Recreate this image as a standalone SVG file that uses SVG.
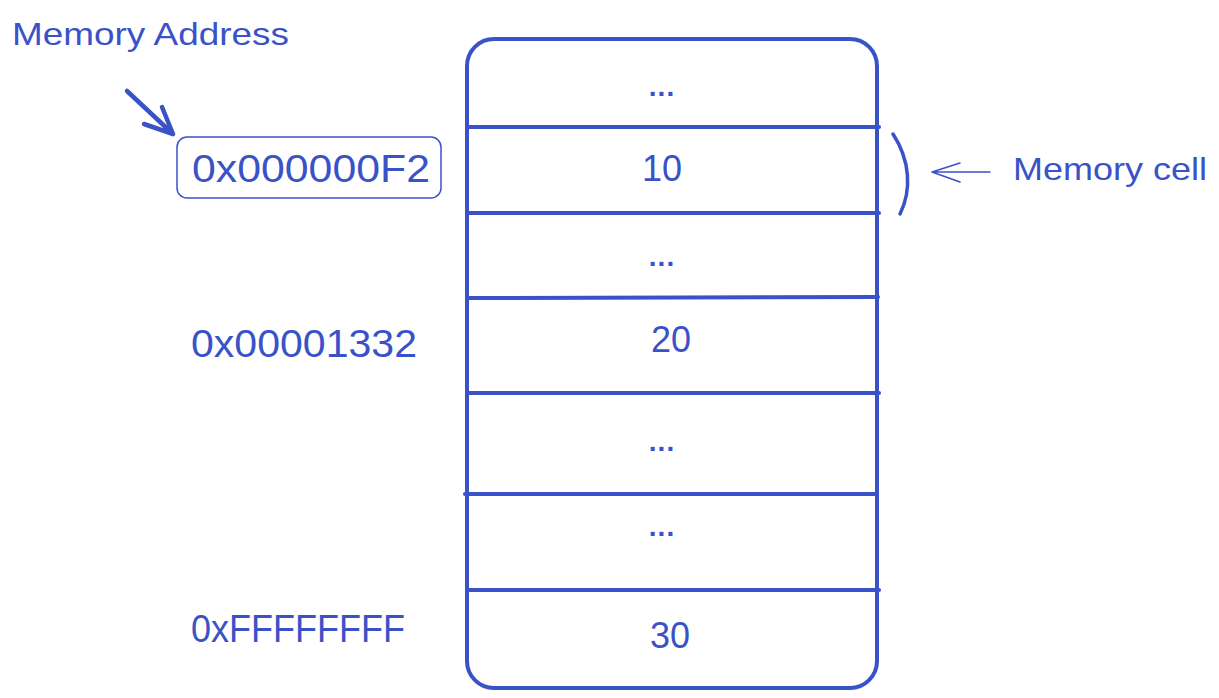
<svg xmlns="http://www.w3.org/2000/svg" width="1219" height="698" viewBox="0 0 1219 698">
<style>
.s{fill:none;stroke:#3a52c8;stroke-linecap:round;stroke-linejoin:round}
.t{fill:#3a52c8;font-family:"Liberation Sans",Arial,sans-serif}
.c{text-anchor:middle;font-size:36px}
.d{text-anchor:middle;font-size:28px;font-weight:bold;letter-spacing:1px}
</style>
<rect width="1219" height="698" fill="#fff"/>
<g id="memory">
<rect class="s" x="467" y="39" width="410" height="649" rx="27" stroke-width="4"/>
</g>
<g id="dividers">
<line class="s" x1="467" y1="127" x2="879" y2="127" stroke-width="4"/>
<line class="s" x1="467" y1="213" x2="879" y2="213" stroke-width="4"/>
<line class="s" x1="467" y1="298" x2="878" y2="297" stroke-width="4"/>
<line class="s" x1="467" y1="393" x2="879" y2="393" stroke-width="4"/>
<line class="s" x1="465" y1="494" x2="877" y2="494" stroke-width="4"/>
<line class="s" x1="467" y1="590" x2="879" y2="590" stroke-width="4"/>
</g>
<g id="cell1"><text class="t d" x="662" y="96">...</text></g>
<g id="cell2"><text class="t c" x="662" y="181">10</text></g>
<g id="cell3"><text class="t d" x="662" y="266">...</text></g>
<g id="cell4"><text class="t c" x="671" y="352">20</text></g>
<g id="cell5"><text class="t d" x="662" y="451">...</text></g>
<g id="cell6"><text class="t d" x="662" y="536">...</text></g>
<g id="cell7"><text class="t c" x="670" y="648">30</text></g>
<g id="addr1">
<rect class="s" x="177" y="137" width="264" height="61" rx="10" stroke-width="1.5"/>
<text class="t" x="192" y="182" font-size="38" textLength="238" lengthAdjust="spacingAndGlyphs">0x000000F2</text>
</g>
<g id="addr2"><text class="t" x="191" y="357" font-size="38" textLength="226" lengthAdjust="spacingAndGlyphs">0x00001332</text></g>
<g id="addr3"><text class="t" x="191" y="642" font-size="38" textLength="214" lengthAdjust="spacingAndGlyphs">0xFFFFFFFF</text></g>
<g id="label-address"><text class="t" x="12" y="45" font-size="32" textLength="277" lengthAdjust="spacingAndGlyphs">Memory Address</text></g>
<g id="label-cell"><text class="t" x="1013" y="180" font-size="32" textLength="194" lengthAdjust="spacingAndGlyphs">Memory cell</text></g>
<g id="connectors">
<path class="s" d="M127 91 L173 134 M144 124 L173 134 L162 107" stroke-width="4.5"/>
<path class="s" d="M893 134 C910 160 912 190 900 214" stroke-width="3.5"/>
<path class="s" d="M990 172 L932 172 M960 163 L932 172 L960 182" stroke-width="1.5"/>
</g>
</svg>
